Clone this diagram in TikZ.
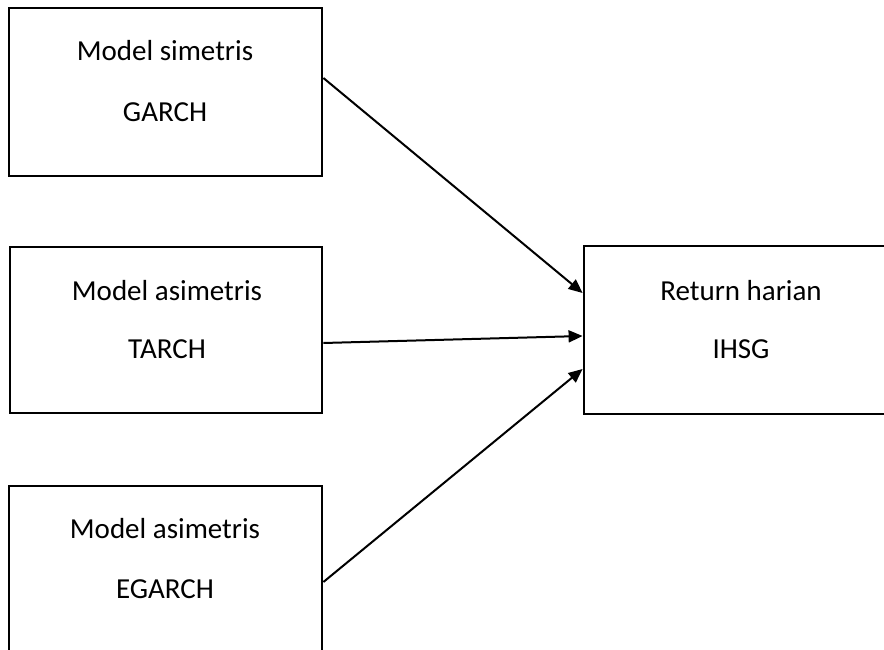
\documentclass[tikz,border=0pt]{standalone}
\usepackage{fontspec}
\setmainfont{Carlito}
\usetikzlibrary{arrows.meta}
\begin{document}
\begin{tikzpicture}[x=1pt,y=-1pt,
  boxnode/.style={draw, line width=2.8pt, inner sep=0pt},
  lbl/.style={font=\fontsize{29}{32}\selectfont, inner sep=0pt, anchor=base},
  arr/.style={-{Triangle[length=14pt,width=12pt]}, line width=2pt}]
\useasboundingbox (0,0) rectangle (884,650);
% boxes
\node[boxnode, minimum width=313pt, minimum height=168pt] (b1) at (165.5,92) {};
\node[boxnode, minimum width=312pt, minimum height=166pt] (b2) at (166,330) {};
\node[boxnode, minimum width=313pt, minimum height=174pt] (b3) at (165.5,573) {};
\node[boxnode, minimum width=316pt, minimum height=168pt] (r) at (742,330) {};
% labels
\node[lbl] (t1a) at (165,61) {Model simetris};
\node[lbl] (t1b) at (165,122) {GARCH};
\node[lbl] (t2a) at (167,300) {Model asimetris};
\node[lbl] (t2b) at (167,358) {TARCH};
\node[lbl] (t3a) at (165,538) {Model asimetris};
\node[lbl] (t3b) at (165,598) {EGARCH};
\node[lbl] (tra) at (741,300) {Return harian};
\node[lbl] (trb) at (741,358) {IHSG};
% arrows
\draw[arr] ([yshift=14pt]b1.east) -- ([yshift=37pt]r.west);
\draw[arr] ([yshift=-13pt]b2.east) -- ([yshift=-6pt]r.west);
\draw[arr] ([yshift=-9pt]b3.east) -- ([yshift=-39pt]r.west);
\end{tikzpicture}
\end{document}
